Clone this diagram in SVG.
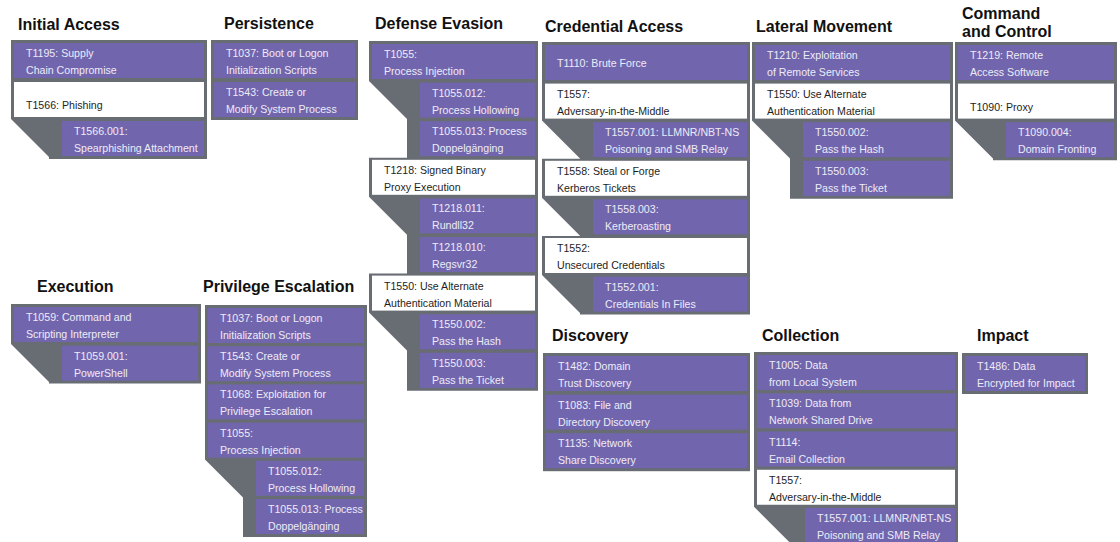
<svg xmlns="http://www.w3.org/2000/svg" width="1120" height="542" viewBox="0 0 1120 542">
  <style>
    .frame { fill: #686c73; }
    .tech { fill: #7166ad; }
    .pick { fill: #ffffff; }
    .title { font-family: "Liberation Sans", Arial, sans-serif; font-size: 16px; font-weight: bold; fill: #111111; }
    .lbl { font-family: "Liberation Sans", Arial, sans-serif; font-size: 10.6px; fill: #eeebf8; }
    .dark { fill: #1e1e1e; }
  </style>
  <rect width="1120" height="542" fill="#ffffff"/>

  <!-- grey frames that hold each tactic and nest its sub-techniques -->
  <g id="connectors">
    <path class="frame" d="M11,40 H207 V159 H49 V157 L11,119 Z"/>
    <rect class="frame" x="211" y="40" width="147" height="80"/>
    <path class="frame" d="M369,41 H538 V390.8 H407 V350.6 L369,312.6 V273.6 H407 V234.8 L369,196.8 V157.8 H407 V119 L369,81 Z"/>
    <path class="frame" d="M542,42 H750 V314.6 H580 V313 L542,275 V236 H580 V235.8 L542,197.8 V158.8 H580 V158.6 L542,120.6 Z"/>
    <path class="frame" d="M752,42 H953 V198.8 H790 V158.6 L752,120.6 Z"/>
    <path class="frame" d="M955,42 H1117 V160.2 H993 V158.6 L955,120.6 Z"/>
    <path class="frame" d="M11,304 H201 V383.6 H49 V382 L11,344 Z"/>
    <path class="frame" d="M205,305 H367 V537 H243 V497.6 L205,459.6 Z"/>
    <rect class="frame" x="543" y="353" width="207" height="118.2"/>
    <path class="frame" d="M754,352 H958 V546 H792 V544.75 L754,506.75 Z"/>
    <rect class="frame" x="962" y="353" width="126" height="41"/>
  </g>

  <!-- Initial Access -->
  <g id="initial-access">
    <text class="title" x="18" y="30">Initial Access</text>
    <g id="t1195"><rect class="tech" x="14" y="43" width="190" height="35"/>
      <text class="lbl" x="26" y="57">T1195: Supply</text><text class="lbl" x="26" y="74">Chain Compromise</text></g>
    <g id="t1566"><rect class="pick" x="14" y="82" width="190" height="35"/>
      <text class="lbl dark" x="26" y="109">T1566: Phishing</text></g>
    <g id="t1566-001"><rect class="tech" x="62" y="121" width="142" height="35"/>
      <text class="lbl" x="74" y="135">T1566.001:</text><text class="lbl" x="74" y="152">Spearphishing Attachment</text></g>
  </g>

  <!-- Persistence -->
  <g id="persistence">
    <text class="title" x="224" y="29">Persistence</text>
    <g id="p-t1037"><rect class="tech" x="214" y="43" width="141" height="35"/>
      <text class="lbl" x="226" y="57">T1037: Boot or Logon</text><text class="lbl" x="226" y="74">Initialization Scripts</text></g>
    <g id="p-t1543"><rect class="tech" x="214" y="82" width="141" height="35"/>
      <text class="lbl" x="226" y="96">T1543: Create or</text><text class="lbl" x="226" y="113">Modify System Process</text></g>
  </g>

  <!-- Defense Evasion -->
  <g id="defense-evasion">
    <text class="title" x="375" y="29">Defense Evasion</text>
    <g id="d-t1055"><rect class="tech" x="372" y="44" width="163" height="35"/>
      <text class="lbl" x="384" y="58">T1055:</text><text class="lbl" x="384" y="75">Process Injection</text></g>
    <g id="d-t1055-012"><rect class="tech" x="420" y="82.6" width="115" height="35"/>
      <text class="lbl" x="432" y="96.6">T1055.012:</text><text class="lbl" x="432" y="113.6">Process Hollowing</text></g>
    <g id="d-t1055-013"><rect class="tech" x="420" y="121.2" width="115" height="35"/>
      <text class="lbl" x="432" y="135.2">T1055.013: Process</text><text class="lbl" x="432" y="152.2">Doppelgänging</text></g>
    <g id="d-t1218"><rect class="pick" x="372" y="159.8" width="163" height="35"/>
      <text class="lbl dark" x="384" y="173.8">T1218: Signed Binary</text><text class="lbl dark" x="384" y="190.8">Proxy Execution</text></g>
    <g id="d-t1218-011"><rect class="tech" x="420" y="198.4" width="115" height="35"/>
      <text class="lbl" x="432" y="212.4">T1218.011:</text><text class="lbl" x="432" y="229.4">Rundll32</text></g>
    <g id="d-t1218-010"><rect class="tech" x="420" y="237" width="115" height="35"/>
      <text class="lbl" x="432" y="251">T1218.010:</text><text class="lbl" x="432" y="268">Regsvr32</text></g>
    <g id="d-t1550"><rect class="pick" x="372" y="275.6" width="163" height="35"/>
      <text class="lbl dark" x="384" y="289.6">T1550: Use Alternate</text><text class="lbl dark" x="384" y="306.6">Authentication Material</text></g>
    <g id="d-t1550-002"><rect class="tech" x="420" y="314.2" width="115" height="35"/>
      <text class="lbl" x="432" y="328.2">T1550.002:</text><text class="lbl" x="432" y="345.2">Pass the Hash</text></g>
    <g id="d-t1550-003"><rect class="tech" x="420" y="352.8" width="115" height="35"/>
      <text class="lbl" x="432" y="366.8">T1550.003:</text><text class="lbl" x="432" y="383.8">Pass the Ticket</text></g>
  </g>

  <!-- Credential Access -->
  <g id="credential-access">
    <text class="title" x="545" y="32">Credential Access</text>
    <g id="c-t1110"><rect class="tech" x="545" y="45" width="202" height="35"/>
      <text class="lbl" x="557" y="67">T1110: Brute Force</text></g>
    <g id="c-t1557"><rect class="pick" x="545" y="83.6" width="202" height="35"/>
      <text class="lbl dark" x="557" y="97.6">T1557:</text><text class="lbl dark" x="557" y="114.6">Adversary-in-the-Middle</text></g>
    <g id="c-t1557-001"><rect class="tech" x="593" y="122.2" width="154" height="35"/>
      <text class="lbl" x="605" y="136.2">T1557.001: LLMNR/NBT-NS</text><text class="lbl" x="605" y="153.2">Poisoning and SMB Relay</text></g>
    <g id="c-t1558"><rect class="pick" x="545" y="160.8" width="202" height="35"/>
      <text class="lbl dark" x="557" y="174.8">T1558: Steal or Forge</text><text class="lbl dark" x="557" y="191.8">Kerberos Tickets</text></g>
    <g id="c-t1558-003"><rect class="tech" x="593" y="199.4" width="154" height="35"/>
      <text class="lbl" x="605" y="213.4">T1558.003:</text><text class="lbl" x="605" y="230.4">Kerberoasting</text></g>
    <g id="c-t1552"><rect class="pick" x="545" y="238" width="202" height="35"/>
      <text class="lbl dark" x="557" y="252">T1552:</text><text class="lbl dark" x="557" y="269">Unsecured Credentials</text></g>
    <g id="c-t1552-001"><rect class="tech" x="593" y="276.6" width="154" height="35"/>
      <text class="lbl" x="605" y="290.6">T1552.001:</text><text class="lbl" x="605" y="307.6">Credentials In Files</text></g>
  </g>

  <!-- Lateral Movement -->
  <g id="lateral-movement">
    <text class="title" x="756" y="32">Lateral Movement</text>
    <g id="l-t1210"><rect class="tech" x="755" y="45" width="195" height="35"/>
      <text class="lbl" x="767" y="59">T1210: Exploitation</text><text class="lbl" x="767" y="76">of Remote Services</text></g>
    <g id="l-t1550"><rect class="pick" x="755" y="83.6" width="195" height="35"/>
      <text class="lbl dark" x="767" y="97.6">T1550: Use Alternate</text><text class="lbl dark" x="767" y="114.6">Authentication Material</text></g>
    <g id="l-t1550-002"><rect class="tech" x="803" y="122.2" width="147" height="35"/>
      <text class="lbl" x="815" y="136.2">T1550.002:</text><text class="lbl" x="815" y="153.2">Pass the Hash</text></g>
    <g id="l-t1550-003"><rect class="tech" x="803" y="160.8" width="147" height="35"/>
      <text class="lbl" x="815" y="174.8">T1550.003:</text><text class="lbl" x="815" y="191.8">Pass the Ticket</text></g>
  </g>

  <!-- Command and Control -->
  <g id="command-and-control">
    <text class="title" x="962" y="19">Command</text>
    <text class="title" x="962" y="37">and Control</text>
    <g id="k-t1219"><rect class="tech" x="958" y="45" width="156" height="35"/>
      <text class="lbl" x="970" y="59">T1219: Remote</text><text class="lbl" x="970" y="76">Access Software</text></g>
    <g id="k-t1090"><rect class="pick" x="958" y="83.6" width="156" height="35"/>
      <text class="lbl dark" x="970" y="110.6">T1090: Proxy</text></g>
    <g id="k-t1090-004"><rect class="tech" x="1006" y="122.2" width="108" height="35"/>
      <text class="lbl" x="1018" y="136.2">T1090.004:</text><text class="lbl" x="1018" y="153.2">Domain Fronting</text></g>
  </g>

  <!-- Execution -->
  <g id="execution">
    <text class="title" x="37" y="292">Execution</text>
    <g id="e-t1059"><rect class="tech" x="14" y="307" width="184" height="35"/>
      <text class="lbl" x="26" y="321">T1059: Command and</text><text class="lbl" x="26" y="338">Scripting Interpreter</text></g>
    <g id="e-t1059-001"><rect class="tech" x="62" y="345.6" width="136" height="35"/>
      <text class="lbl" x="74" y="359.6">T1059.001:</text><text class="lbl" x="74" y="376.6">PowerShell</text></g>
  </g>

  <!-- Privilege Escalation -->
  <g id="privilege-escalation">
    <text class="title" x="203" y="292">Privilege Escalation</text>
    <g id="pe-t1037"><rect class="tech" x="208" y="308" width="156" height="35"/>
      <text class="lbl" x="220" y="322">T1037: Boot or Logon</text><text class="lbl" x="220" y="339">Initialization Scripts</text></g>
    <g id="pe-t1543"><rect class="tech" x="208" y="346.2" width="156" height="35"/>
      <text class="lbl" x="220" y="360.2">T1543: Create or</text><text class="lbl" x="220" y="377.2">Modify System Process</text></g>
    <g id="pe-t1068"><rect class="tech" x="208" y="384.4" width="156" height="35"/>
      <text class="lbl" x="220" y="398.4">T1068: Exploitation for</text><text class="lbl" x="220" y="415.4">Privilege Escalation</text></g>
    <g id="pe-t1055"><rect class="tech" x="208" y="422.6" width="156" height="35"/>
      <text class="lbl" x="220" y="436.6">T1055:</text><text class="lbl" x="220" y="453.6">Process Injection</text></g>
    <g id="pe-t1055-012"><rect class="tech" x="256" y="460.8" width="108" height="35"/>
      <text class="lbl" x="268" y="474.8">T1055.012:</text><text class="lbl" x="268" y="491.8">Process Hollowing</text></g>
    <g id="pe-t1055-013"><rect class="tech" x="256" y="499" width="108" height="35"/>
      <text class="lbl" x="268" y="513">T1055.013: Process</text><text class="lbl" x="268" y="530">Doppelgänging</text></g>
  </g>

  <!-- Discovery -->
  <g id="discovery">
    <text class="title" x="552" y="341">Discovery</text>
    <g id="di-t1482"><rect class="tech" x="546" y="356" width="201" height="35"/>
      <text class="lbl" x="558" y="370">T1482: Domain</text><text class="lbl" x="558" y="387">Trust Discovery</text></g>
    <g id="di-t1083"><rect class="tech" x="546" y="394.6" width="201" height="35"/>
      <text class="lbl" x="558" y="408.6">T1083: File and</text><text class="lbl" x="558" y="425.6">Directory Discovery</text></g>
    <g id="di-t1135"><rect class="tech" x="546" y="433.2" width="201" height="35"/>
      <text class="lbl" x="558" y="447.2">T1135: Network</text><text class="lbl" x="558" y="464.2">Share Discovery</text></g>
  </g>

  <!-- Collection -->
  <g id="collection">
    <text class="title" x="762" y="341">Collection</text>
    <g id="co-t1005"><rect class="tech" x="757" y="355" width="198" height="35"/>
      <text class="lbl" x="769" y="369">T1005: Data</text><text class="lbl" x="769" y="386">from Local System</text></g>
    <g id="co-t1039"><rect class="tech" x="757" y="393.25" width="198" height="35"/>
      <text class="lbl" x="769" y="407.25">T1039: Data from</text><text class="lbl" x="769" y="424.25">Network Shared Drive</text></g>
    <g id="co-t1114"><rect class="tech" x="757" y="431.5" width="198" height="35"/>
      <text class="lbl" x="769" y="445.5">T1114:</text><text class="lbl" x="769" y="462.5">Email Collection</text></g>
    <g id="co-t1557"><rect class="pick" x="757" y="469.75" width="198" height="35"/>
      <text class="lbl dark" x="769" y="483.75">T1557:</text><text class="lbl dark" x="769" y="500.75">Adversary-in-the-Middle</text></g>
    <g id="co-t1557-001"><rect class="tech" x="805" y="508" width="150" height="35"/>
      <text class="lbl" x="817" y="522">T1557.001: LLMNR/NBT-NS</text><text class="lbl" x="817" y="539">Poisoning and SMB Relay</text></g>
  </g>

  <!-- Impact -->
  <g id="impact">
    <text class="title" x="977" y="341">Impact</text>
    <g id="i-t1486"><rect class="tech" x="965" y="356" width="120" height="35"/>
      <text class="lbl" x="977" y="370">T1486: Data</text><text class="lbl" x="977" y="387">Encrypted for Impact</text></g>
  </g>
</svg>
